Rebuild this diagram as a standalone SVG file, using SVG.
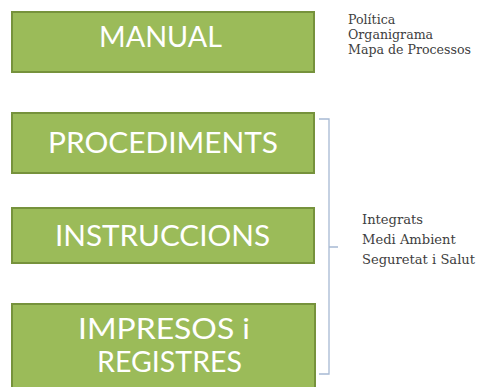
<svg xmlns="http://www.w3.org/2000/svg" width="477" height="387" viewBox="0 0 477 387">
<style>
.box{fill:#9BBB59;stroke:#76923C;stroke-width:2}
.lbl{font-family:Lato,"Open Sans","Liberation Sans",sans-serif;fill:#FFFFFF;font-size:29px}
.note{font-family:"DejaVu Serif","Liberation Serif",serif;fill:#404040;font-size:12.6px}
.note2{font-family:"DejaVu Serif","Liberation Serif",serif;fill:#404040;font-size:13.1px}
.brace{fill:none;stroke:#A7B9D3;stroke-width:1.3}
</style>
<rect width="477" height="387" fill="#FFFFFF"/>
<g id="manual">
<rect class="box" x="12" y="12" width="302" height="60"/>
<text class="lbl" x="99" y="47" textLength="123" lengthAdjust="spacingAndGlyphs">MANUAL</text>
</g>
<g id="procediments">
<rect class="box" x="12" y="113" width="302" height="60"/>
<text class="lbl" x="48" y="153" textLength="230" lengthAdjust="spacingAndGlyphs">PROCEDIMENTS</text>
</g>
<g id="instruccions">
<rect class="box" x="12" y="208" width="302" height="55"/>
<text class="lbl" x="55" y="246" textLength="215" lengthAdjust="spacingAndGlyphs">INSTRUCCIONS</text>
</g>
<g id="impresos">
<rect class="box" x="12" y="304" width="303" height="90"/>
<text class="lbl" x="78" y="339" textLength="172" lengthAdjust="spacingAndGlyphs">IMPRESOS  i</text>
<text class="lbl" x="97" y="372" textLength="145" lengthAdjust="spacingAndGlyphs">REGISTRES</text>
</g>
<g id="note-manual">
<text class="note" x="348" y="24">Política</text>
<text class="note" x="348" y="39">Organigrama</text>
<text class="note" x="348" y="54">Mapa de Processos</text>
</g>
<g id="connectors">
<path class="brace" d="M319,119 H329 V374 H319 M329,247 H338"/>
</g>
<g id="note-integrats">
<text class="note2" x="362" y="224">Integrats</text>
<text class="note2" x="362" y="244">Medi Ambient</text>
<text class="note2" x="362" y="264">Seguretat i Salut</text>
</g>
</svg>
